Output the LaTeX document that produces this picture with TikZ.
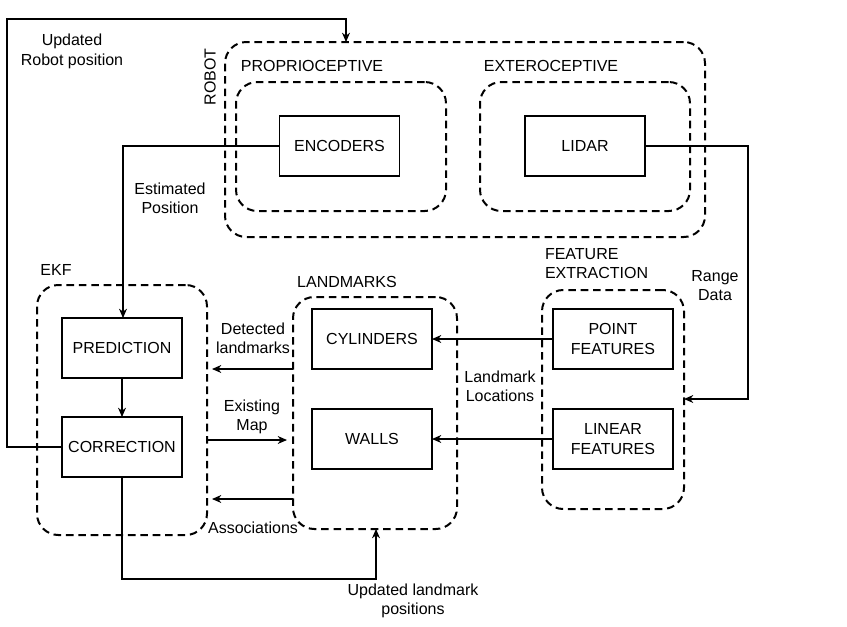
\documentclass[tikz,border=0pt]{standalone}
\usepackage{fontspec}
\setmainfont{Liberation Sans}
\usetikzlibrary{arrows.meta,calc}
\newdimen\pxu \pxu=0.75pt
\tikzset{
  x=0.75pt, y=-0.75pt,
  every node/.style={font=\fontsize{12pt}{14.5pt}\selectfont, inner sep=0pt, outer sep=0pt},
  container/.style={draw, line width=1.5pt, dash pattern=on 5.7pt off 3.6pt, rounded corners=16pt},
  block/.style={draw, line width=1.4pt, minimum width=120\pxu, minimum height=60\pxu, align=center},
  lbl/.style={align=center},
  conn/.style={line width=0.8pt},
  arr/.style={conn, -{Stealth[length=7pt,width=6pt]}},
}
\begin{document}
\begin{tikzpicture}
\useasboundingbox (0,0) rectangle (847,626);
% containers
\node[container, minimum width=480\pxu, minimum height=195\pxu] (robot) at (465,139.5) {};
\node[container, minimum width=210\pxu, minimum height=129\pxu] (prop) at (341,146.5) {};
\node[container, minimum width=210\pxu, minimum height=129\pxu] (exte) at (585,146.5) {};
\node[container, minimum width=170\pxu, minimum height=250\pxu] (ekf) at (122,410) {};
\node[container, minimum width=164\pxu, minimum height=232\pxu] (land) at (375,413) {};
\node[container, minimum width=142\pxu, minimum height=219\pxu] (feat) at (613,399.5) {};
% container labels
\node[rotate=90] (robotlbl) at (210,77) {ROBOT};
\node (proplbl) at (312,66) {PROPRIOCEPTIVE};
\node (extelbl) at (551,66) {EXTEROCEPTIVE};
\node (ekflbl) at (56,270) {EKF};
\node (landlbl) at (347,282) {LANDMARKS};
\node[anchor=west, align=left] (featlbl) at (545,263.5) {FEATURE\\EXTRACTION};
% blocks
\node[block] (enc) at (339.5,146) {ENCODERS};
\node[block] (lidar) at (585,146) {LIDAR};
\node[block] (pred) at (122,348) {PREDICTION};
\node[block] (corr) at (122,447) {CORRECTION};
\node[block] (cyl) at (372,339) {CYLINDERS};
\node[block] (walls) at (372,439) {WALLS};
\node[block] (point) at (613,339) {POINT\\FEATURES};
\node[block] (linear) at (613,439) {LINEAR\\FEATURES};
% coordinates
\coordinate (tl) at (7,19);
\coordinate (robtop) at (346,42);
\coordinate (ulm) at (376,529);
\coordinate (rd) at (748,399);
\coordinate (det) at (293,369);
\coordinate (exm) at (207,440);
\coordinate (ass) at (293,499);
% connectors
\draw[arr] (corr.west) -| (tl) -| (robtop);
\draw[arr] (enc.west) -| ([xshift=1\pxu]pred.north);
\draw[arr] (pred.south) -- (corr.north);
\draw[arr, shorten >=5\pxu] (det) -- (ekf.east |- det);
\draw[arr, shorten >=6\pxu] (exm) -- (land.west |- exm);
\draw[arr, shorten >=5\pxu] (ass) -- (ekf.east |- ass);
\draw[arr] (corr.south) -- ++(0,102) -| (ulm);
\draw[arr] (point.west) -- (cyl.east);
\draw[arr] (linear.west) -- (walls.east);
\draw[arr] (lidar.east) -| (rd) -- (feat.east |- rd);
% connector labels
\node[lbl] (l1) at (72,51.5) {Updated\\Robot position};
\node[lbl] (l2) at (170,198.5) {Estimated\\Position};
\node[lbl] (l3) at (253,338.5) {Detected\\landmarks};
\node[lbl] (l4) at (252,417) {Existing\\Map};
\node[lbl] (l5) at (253,528) {Associations};
\node[lbl] (l6) at (413,601) {Updated landmark\\positions};
\node[lbl] (l7) at (500,386) {Landmark\\Locations};
\node[lbl] (l8) at (715,285.5) {Range\\Data};
\end{tikzpicture}
\end{document}
